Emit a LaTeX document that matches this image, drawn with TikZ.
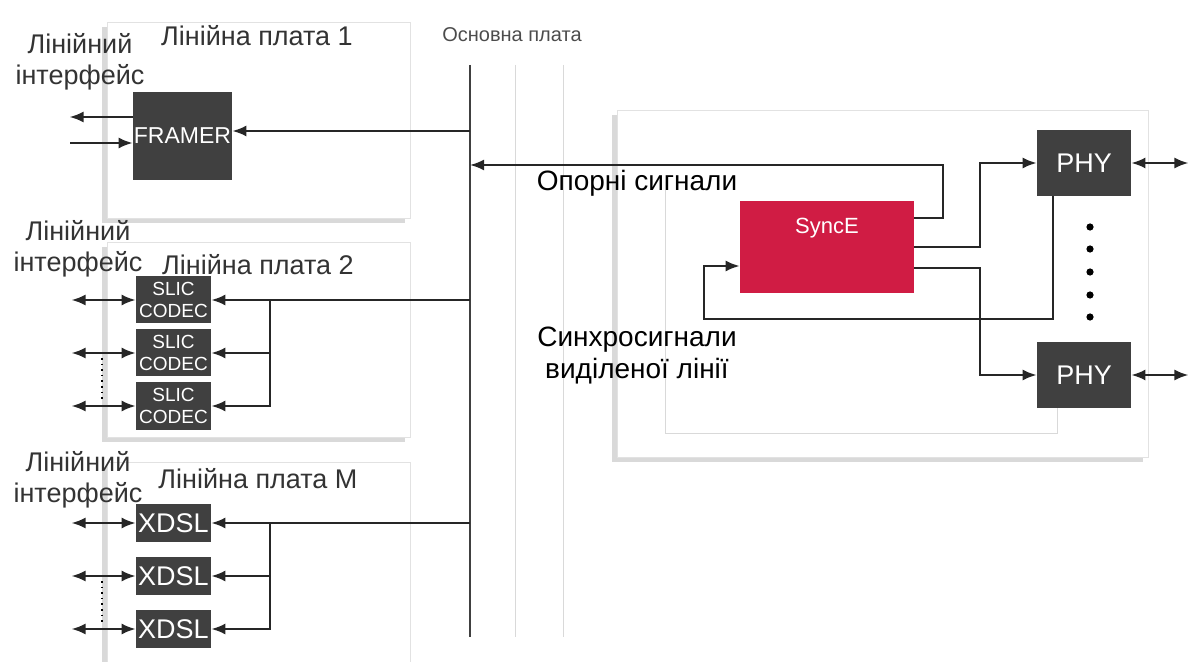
\documentclass[tikz,border=0pt]{standalone}
\usepackage{fontspec}
\setmainfont{Liberation Sans}
\usetikzlibrary{arrows.meta,shadows}

\definecolor{chipgray}{HTML}{404040}
\definecolor{syncred}{HTML}{D01C44}
\definecolor{cardline}{HTML}{E2E2E2}

\tikzset{
    card/.style={draw=cardline, fill=white, minimum width=151.5pt,
        drop shadow={shadow xshift=-2.5pt, shadow yshift=-2.5pt, opacity=0.3}},
    chip/.style={fill=chipgray, text=white, inner sep=0pt},
    slic/.style={minimum width=37.5pt, minimum height=23.5pt, align=center,
        font=\fontsize{9.5}{11}\selectfont},
    xdsl/.style={minimum width=37.5pt, minimum height=19pt,
        font=\fontsize{13.5}{14}\selectfont},
    phy/.style={minimum width=47pt, minimum height=33pt,
        font=\fontsize{13.5}{14}\selectfont},
    syncbox/.style={fill=syncred, minimum width=87pt, minimum height=46pt,
        label={[text=white, below=5pt, font=\fontsize{11}{12}\selectfont]north:SyncE}},
    conn/.style={line width=1pt, black!85},
    title/.style={font=\fontsize{13.5}{15}\selectfont, text=black!80, inner sep=0pt},
    lbl/.style={title, align=center, font=\fontsize{13.5}{15.5}\selectfont},
    sig/.style={font=\fontsize{14}{16}\selectfont, align=center, inner sep=0pt},
    note/.style={font=\fontsize{10}{12}\selectfont, text=black!70, inner sep=0pt}
}

\begin{document}
\begin{tikzpicture}[x=0.5pt, y=-0.5pt, >={Latex[length=7pt,width=5.5pt]}]
    \useasboundingbox (0,0) rectangle (1188,662);

    % boards
    \node[card, minimum height=98pt] (card1) at (258.5,120) {};
    \node[card, minimum height=97.5pt] (card2) at (258.5,339.5) {};
    \node[card, minimum height=106pt] (cardM) at (258.5,568) {};
    \node[card, minimum width=265.5pt, minimum height=173.5pt] (clk) at (882.5,283.5) {};
    \draw[black!15] (665,190) |- (1057,433) -- (1057,408);

    % backplane
    \node[note] (bp) at (512,35) {Основна плата};
    \coordinate (bustop) at (470,65);
    \coordinate (busbot) at (470,637);
    \draw[line width=1pt, black!75] (bustop) -- (busbot);
    \draw[black!15] (515,65) -- (515,637);
    \draw[black!15] (563,65) -- (563,637);

    % titles
    \node[title] (t1) at (257,36) {Лінійна плата 1};
    \node[title] (t2) at (258,265) {Лінійна плата 2};
    \node[title] (tM) at (258,479) {Лінійна плата M};
    \node[lbl] (if1) at (80,62) {Лінійний\\інтерфейс};
    \node[lbl] (if2) at (78,249) {Лінійний\\інтерфейс};
    \node[lbl] (ifM) at (78,480) {Лінійний\\інтерфейс};

    % line card 1
    \node[chip, minimum width=49.5pt, minimum height=44pt,
        font=\fontsize{11.5}{12}\selectfont] (framer) at (182.5,136) {FRAMER};
    \coordinate (fr) at ([yshift=2.5pt]framer.east);
    \draw[conn,->] ([yshift=9.5pt]framer.west) -- ++(-63,0);
    \draw[conn,<-] ([yshift=-3.5pt]framer.west) -- ++(-63,0);
    \draw[conn,->] (fr -| bustop) -- (fr);

    % line card 2
    \coordinate (fan) at (270,0);
    \foreach \i/\y in {1/300,2/353,3/406}
        \node[chip, slic] (slic\i) at (173.5,\y) {SLIC\\CODEC};
    \draw[conn,->] (slic1.east -| bustop) -- (slic1.east);
    \draw[conn,->] (slic1.east -| fan) |- (slic2.east);
    \draw[conn,->] (slic1.east -| fan) |- (slic3.east);
    \foreach \i in {1,2,3}
        \draw[conn,<->] (slic\i.west) -- ++(-64,0);
    \draw[dotted, thick] (102,358) -- (102,401);

    % line card M
    \foreach \i/\y in {1/523,2/576,3/629}
        \node[chip, xdsl] (xdsl\i) at (173.5,\y) {XDSL};
    \draw[conn,->] (xdsl1.east -| bustop) -- (xdsl1.east);
    \draw[conn,->] (xdsl1.east -| fan) |- (xdsl2.east);
    \draw[conn,->] (xdsl1.east -| fan) |- (xdsl3.east);
    \foreach \i in {1,2,3}
        \draw[conn,<->] (xdsl\i.west) -- ++(-64,0);
    \draw[dotted, thick] (102,581) -- (102,624);

    % clock board
    \node[syncbox] (synce) at (827,247) {};
    \node[chip, phy] (phy1) at (1084,163) {PHY};
    \node[chip, phy] (phyN) at (1084,375) {PHY};
    \coordinate (ref) at (470,165);
    \draw[conn,->] ([yshift=14.5pt]synce.east) -- ++(29,0) |- (ref);
    \draw[conn,->] (synce.east) -- ++(66,0) |- (phy1.west);
    \draw[conn,->] ([yshift=-10.5pt]synce.east) -- ++(66,0) |- (phyN.west);
    \draw[conn,->] ([xshift=-15.5pt]phy1.south) |- (704,319) |- ([yshift=-9.5pt]synce.west);
    \foreach \y in {227,249,272,295,317}
        \fill (1090,\y) circle (1.8pt);
    \draw[conn,<->] (phy1.east) -- ++(57,0);
    \draw[conn,<->] (phyN.east) -- ++(57,0);

    \node[sig] (refsig) at (637,183) {Опорні сигнали};
    \node[sig] (linesig) at (637,356) {Синхросигнали\\виділеної лінії};
\end{tikzpicture}
\end{document}
